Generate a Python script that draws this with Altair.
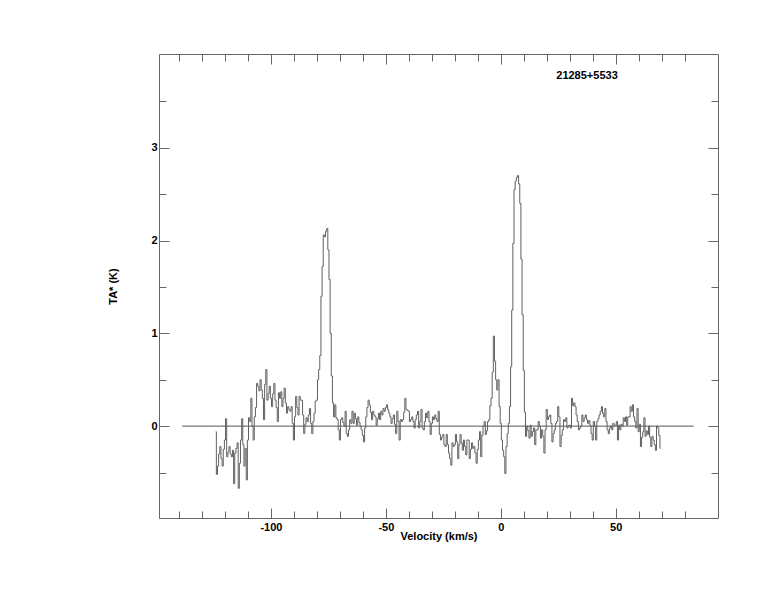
import altair as alt
import pandas as pd

# ---------------- data ----------------
source_name = "21285+5533"
v_start = -124.0          # first channel velocity (km/s)
channel_width = 0.5       # km/s

ta_values = [
    # -124.0 .. -119.5
    -0.06, -0.52, -0.43, -0.30, -0.22, -0.35, -0.43, -0.25, -0.15, 0.08,
    # -119.0 .. -114.5
    -0.33, -0.28, -0.22, -0.30, -0.33, -0.26, -0.62, -0.29, -0.24, -0.18,
    # -114.0 .. -109.5
    -0.67, -0.40, -0.15, 0.08, -0.20, -0.43, -0.24, -0.58, -0.15, 0.09,
    # -109.0 .. -104.5
    0.05, 0.30, 0.00, -0.15, 0.10, 0.20, 0.46, 0.43, 0.38, 0.50,
    # -104.0 .. -99.5
    0.39, 0.30, 0.07, 0.45, 0.61, 0.28, 0.35, 0.43, 0.30, 0.21,
    # -99.0 .. -94.5
    0.35, 0.46, 0.28, 0.20, 0.05, 0.36, 0.30, 0.37, 0.21, 0.30,
    # -94.0 .. -89.5
    0.41, 0.25, 0.14, 0.21, 0.18, 0.16, 0.21, 0.03, -0.15, 0.10,
    # -89.0 .. -84.5
    0.32, 0.20, 0.12, 0.32, 0.28, 0.28, 0.12, -0.08, 0.02, 0.09,
    # -84.0 .. -79.5
    0.05, 0.12, 0.19, 0.03, -0.08, 0.05, 0.14, 0.27, 0.28, 0.50,
    # -79.0 .. -74.5
    0.61, 0.76, 1.40, 1.72, 2.06, 2.04, 2.10, 2.13, 1.90, 1.58,
    # -74.0 .. -69.5
    1.00, 0.54, 0.25, 0.10, 0.23, 0.09, 0.07, -0.04, -0.15, 0.07,
    # -69.0 .. -64.5
    0.09, 0.04, 0.00, 0.16, -0.08, -0.11, -0.04, 0.07, 0.03, 0.16,
    # -64.0 .. -59.5
    0.03, 0.14, 0.08, 0.01, 0.10, 0.04, 0.00, -0.04, -0.10, -0.17,
    # -59.0 .. -54.5
    -0.02, 0.10, 0.20, 0.28, 0.23, 0.15, 0.07, 0.16, 0.12, 0.10,
    # -54.0 .. -49.5
    0.01, 0.08, 0.14, 0.07, 0.16, 0.12, 0.19, 0.16, 0.20, 0.23,
    # -49.0 .. -44.5
    0.18, 0.14, 0.10, 0.03, 0.08, 0.12, 0.02, -0.08, 0.16, 0.05,
    # -44.0 .. -39.5
    -0.15, 0.07, 0.05, 0.07, 0.15, 0.30, 0.18, 0.17, 0.16, 0.05,
    # -39.0 .. -34.5
    0.07, 0.10, 0.05, -0.02, 0.07, 0.12, 0.16, -0.02, 0.05, 0.18,
    # -34.0 .. -29.5
    -0.02, -0.04, 0.05, 0.14, 0.09, 0.16, 0.05, -0.09, 0.03, 0.10,
    # -29.0 .. -24.5
    0.07, 0.12, 0.08, 0.05, 0.16, -0.09, -0.15, -0.12, -0.09, -0.20,
    # -24.0 .. -19.5
    -0.22, -0.09, -0.20, -0.29, -0.35, -0.42, -0.18, -0.22, -0.20, -0.09,
    # -19.0 .. -14.5
    -0.17, -0.35, -0.20, -0.09, -0.18, -0.26, -0.15, -0.22, -0.31, -0.15,
    # -14.0 .. -9.5
    -0.15, -0.35, -0.25, -0.18, -0.24, -0.22, -0.29, -0.40, -0.25, -0.15,
    # -9.0 .. -4.5
    -0.06, -0.33, -0.10, 0.00, 0.05, -0.09, -0.05, 0.05, 0.07, 0.22,
    # -4.0 .. 0.5
    0.30, 0.58, 0.97, 0.70, 0.50, 0.39, 0.50, 0.21, 0.03, -0.15,
    # 1.0 .. 5.5
    -0.26, -0.33, -0.51, -0.22, -0.08, 0.03, 0.21, 0.64, 1.25, 1.97,
    # 6.0 .. 10.5
    2.55, 2.64, 2.68, 2.70, 2.61, 2.40, 1.80, 1.20, 0.60, 0.15,
    # 11.0 .. 15.5
    -0.11, 0.00, -0.05, -0.13, 0.01, -0.11, -0.06, -0.02, -0.20, -0.04,
    # 16.0 .. 20.5
    -0.04, 0.05, 0.00, -0.13, -0.04, -0.11, -0.29, -0.04, 0.18, 0.07,
    # 21.0 .. 25.5
    0.10, 0.12, 0.03, -0.17, -0.08, -0.04, 0.03, 0.05, 0.21, 0.10,
    # 26.0 .. 30.5
    -0.22, -0.10, -0.04, 0.07, 0.05, 0.09, -0.02, 0.00, 0.01, -0.02,
    # 31.0 .. 35.5
    0.30, 0.22, 0.25, 0.21, 0.12, 0.05, -0.04, -0.02, 0.00, 0.12,
    # 36.0 .. 40.5
    0.05, 0.09, 0.12, 0.07, 0.03, 0.06, 0.01, -0.08, -0.15, 0.05,
    # 41.0 .. 45.5
    0.00, -0.15, 0.05, 0.08, 0.12, 0.16, 0.21, 0.14, 0.10, 0.19,
    # 46.0 .. 50.5
    0.05, -0.04, -0.08, -0.02, 0.00, -0.04, 0.03, 0.01, 0.01, 0.05,
    # 51.0 .. 55.5
    -0.15, 0.01, -0.04, 0.02, 0.00, 0.09, 0.05, 0.10, 0.01, 0.10,
    # 56.0 .. 60.5
    0.10, 0.21, 0.16, 0.23, 0.10, 0.05, -0.02, 0.19, -0.06, 0.02,
    # 61.0 .. 65.5
    -0.22, -0.12, -0.06, 0.09, -0.11, -0.05, -0.09, 0.00, -0.12, -0.22,
    # 66.0 .. 69.5
    -0.11, -0.15, -0.20, -0.26, 0.00, -0.02, -0.10, -0.24,
]

velocity = [v_start + i * channel_width for i in range(len(ta_values))]

x_domain = [-148.7, 94.5]
y_domain = [-0.99, 4.01]
x_major = [-100, -50, 0, 50]
x_minor = [-140, -130, -120, -110, -90, -80, -70, -60, -40, -30, -20, -10,
           10, 20, 30, 40, 60, 70, 80]
y_major = [0, 1, 2, 3]
y_minor = [-0.5, 0.5, 1.5, 2.5, 3.5]
baseline_x = [-138.6, 83.9]
baseline_y = [0.0]

# ---------------- style ----------------
W, H = 559, 464
FONT = "Liberation Sans"
LINE = "#606060"
FRAME = "#666666"

df = pd.DataFrame({"v": velocity, "ta": ta_values})
xs = alt.Scale(domain=x_domain, nice=False, zero=False)
ys = alt.Scale(domain=y_domain, nice=False, zero=False)

spectrum = alt.Chart(df).mark_line(
    interpolate="step", color=LINE, strokeWidth=1
).encode(
    x=alt.X("v:Q", scale=xs, axis=alt.Axis(
        orient="bottom", values=x_major, tickSize=0, domain=False, grid=False,
        labelPadding=3, labelFont=FONT, labelFontSize=11, labelFontWeight="bold",
        labelColor="black", labelExpr="'' + datum.value",
        title="Velocity (km/s)", titleFont=FONT, titleFontSize=11,
        titleFontWeight="bold", titleColor="black", titleY=12,
        titleBaseline="top")),
    y=alt.Y("ta:Q", scale=ys, axis=alt.Axis(
        orient="left", values=y_major, tickSize=0, domain=False, grid=False,
        labelPadding=2, labelFont=FONT, labelFontSize=11, labelFontWeight="bold",
        labelColor="black", labelExpr="'' + datum.value",
        title="TA* (K)", titleFont=FONT, titleFontSize=11,
        titleFontWeight="bold", titleColor="black", titleX=-46,
        titleBaseline="middle")),
)


def tick_layer(x_orient, x_vals, x_size, x_off, y_orient, y_vals, y_size, y_off):
    return alt.Chart(df).mark_point(opacity=0).encode(
        x=alt.X("v:Q", scale=xs, title=None, axis=alt.Axis(
            orient=x_orient, values=x_vals, tickSize=x_size, offset=x_off,
            labels=False, domain=False, grid=False, tickColor=FRAME,
            tickWidth=1)),
        y=alt.Y("ta:Q", scale=ys, title=None, axis=alt.Axis(
            orient=y_orient, values=y_vals, tickSize=y_size, offset=y_off,
            labels=False, domain=False, grid=False, tickColor=FRAME,
            tickWidth=1)),
    )


# inward ticks: bottom & left edges
t1 = tick_layer("top", x_major, 10, -H, "right", y_major, 10, -W)
t2 = tick_layer("top", x_minor, 7, -H, "right", y_minor, 7, -W)
# inward ticks: top & right edges
t3 = tick_layer("bottom", x_major, 10, -H, "left", y_major, 10, -W)
t4 = tick_layer("bottom", x_minor, 7, -H, "left", y_minor, 7, -W)

base_df = pd.DataFrame({"x": [baseline_x[0]], "x2": [baseline_x[1]], "y": baseline_y})
baseline = alt.Chart(base_df).mark_rule(color="#555555", strokeWidth=1).encode(
    x=alt.X("x:Q", scale=xs, axis=None),
    x2="x2:Q",
    y=alt.Y("y:Q", scale=ys, axis=None),
)

label = alt.Chart(pd.DataFrame({"name": [source_name]})).mark_text(
    font=FONT, fontSize=11, fontWeight="bold", color="black",
    align="center", baseline="middle"
).encode(
    x=alt.value(428), y=alt.value(22), text="name:N"
)

chart = alt.layer(baseline, spectrum, t1, t2, t3, t4, label).resolve_axis(
    x="independent", y="independent"
).properties(
    width=W, height=H,
    autosize=alt.AutoSizeParams(type="none"),
    padding={"left": 151, "top": 46, "right": 40, "bottom": 60},
).configure_view(stroke=FRAME, strokeWidth=1)

chart.save("out.html", embed_options={"renderer": "svg", "actions": False})
